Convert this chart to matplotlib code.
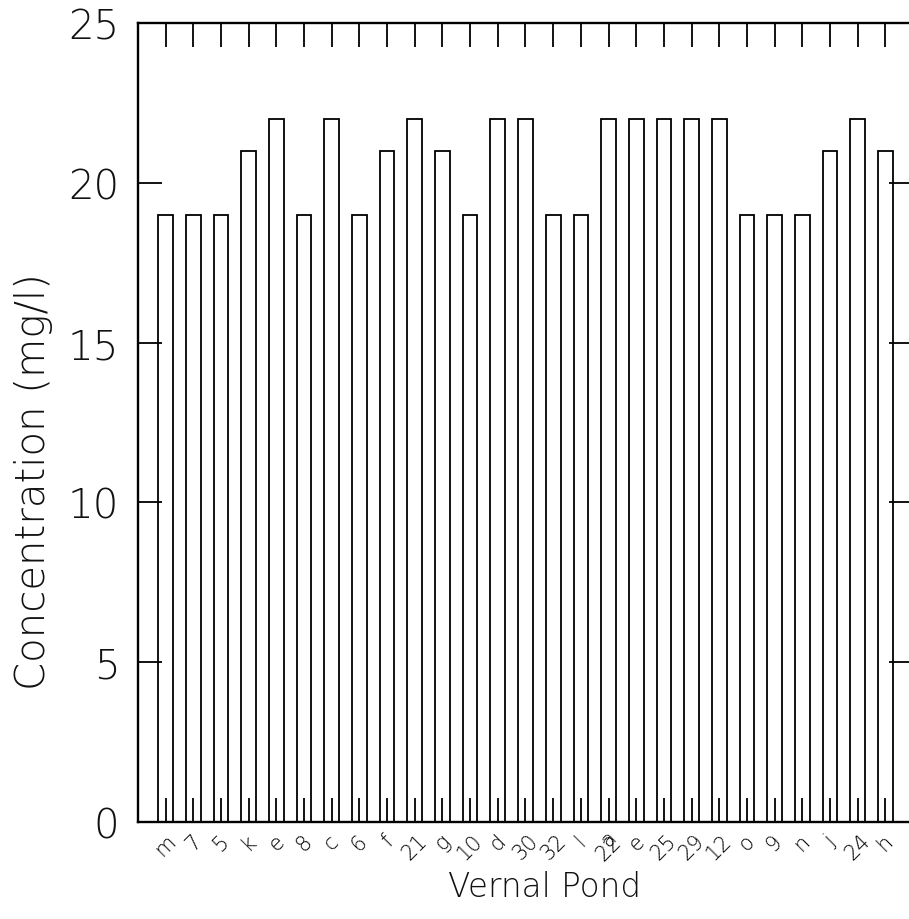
import matplotlib
matplotlib.use("Agg")
import matplotlib.pyplot as plt
import numpy as np

# ---- data ----
ponds = ["m", "7", "5", "k", "e", "8", "c", "6", "f", "21", "g", "10", "d", "30",
         "32", "l", "22", "e", "25", "29", "12", "o", "9", "n", "j", "24", "h"]
concentration = [19, 19, 19, 21, 22, 19, 22, 19, 21, 22, 21, 19, 22, 22,
                 19, 19, 22, 22, 22, 22, 22, 19, 19, 19, 21, 22, 21]
extra_label_index = [16]
extra_labels = ["a"]
yticks = [0, 5, 10, 15, 20, 25]

plt.rcParams['font.family'] = ['DejaVu Sans']

fig = plt.figure(figsize=(9.09, 9.2), dpi=100)
ax = fig.add_axes([138 / 909, 97 / 920, 775 / 909, 799 / 920])

x = np.arange(len(ponds))
ax.bar(x, concentration, width=0.53, color="white", edgecolor="black", linewidth=1.3)

ax.set_xlim(-1, len(ponds))
ax.set_ylim(0, 25)
ax.set_yticks(yticks)
ax.set_yticklabels([str(v) for v in yticks], fontsize=29, fontweight="light", color="#111111")
ax.xaxis.remove_overlapping_locs = False
ax.set_xticks(x)
ax.set_xticklabels(ponds, rotation=45, fontsize=15, fontweight="light", ha="center")
ax.set_xticks(extra_label_index, minor=True)
ax.set_xticklabels(extra_labels, minor=True, rotation=45, fontsize=15,
                   fontweight="light", ha="center")

ax.tick_params(axis="both", which="major", direction="in", length=17, width=1.3,
               top=True, right=True)
ax.tick_params(axis="y", pad=13.5)
ax.tick_params(axis="x", which="major", pad=6)
ax.tick_params(axis="x", which="minor", length=0, pad=3, top=False)
for s in ax.spines.values():
    s.set_linewidth(1.7)

fig.text(34 / 909, 1 - 482 / 920, "Concentration (mg/l)", rotation=90,
         ha="center", va="center", fontsize=29, fontweight="light", color="#111111")
fig.text(545 / 909, 1 - 888 / 920, "Vernal Pond", ha="center", va="center",
         fontsize=23.5, fontweight="light", color="#111111")

fig.savefig("out.png", dpi=100)
